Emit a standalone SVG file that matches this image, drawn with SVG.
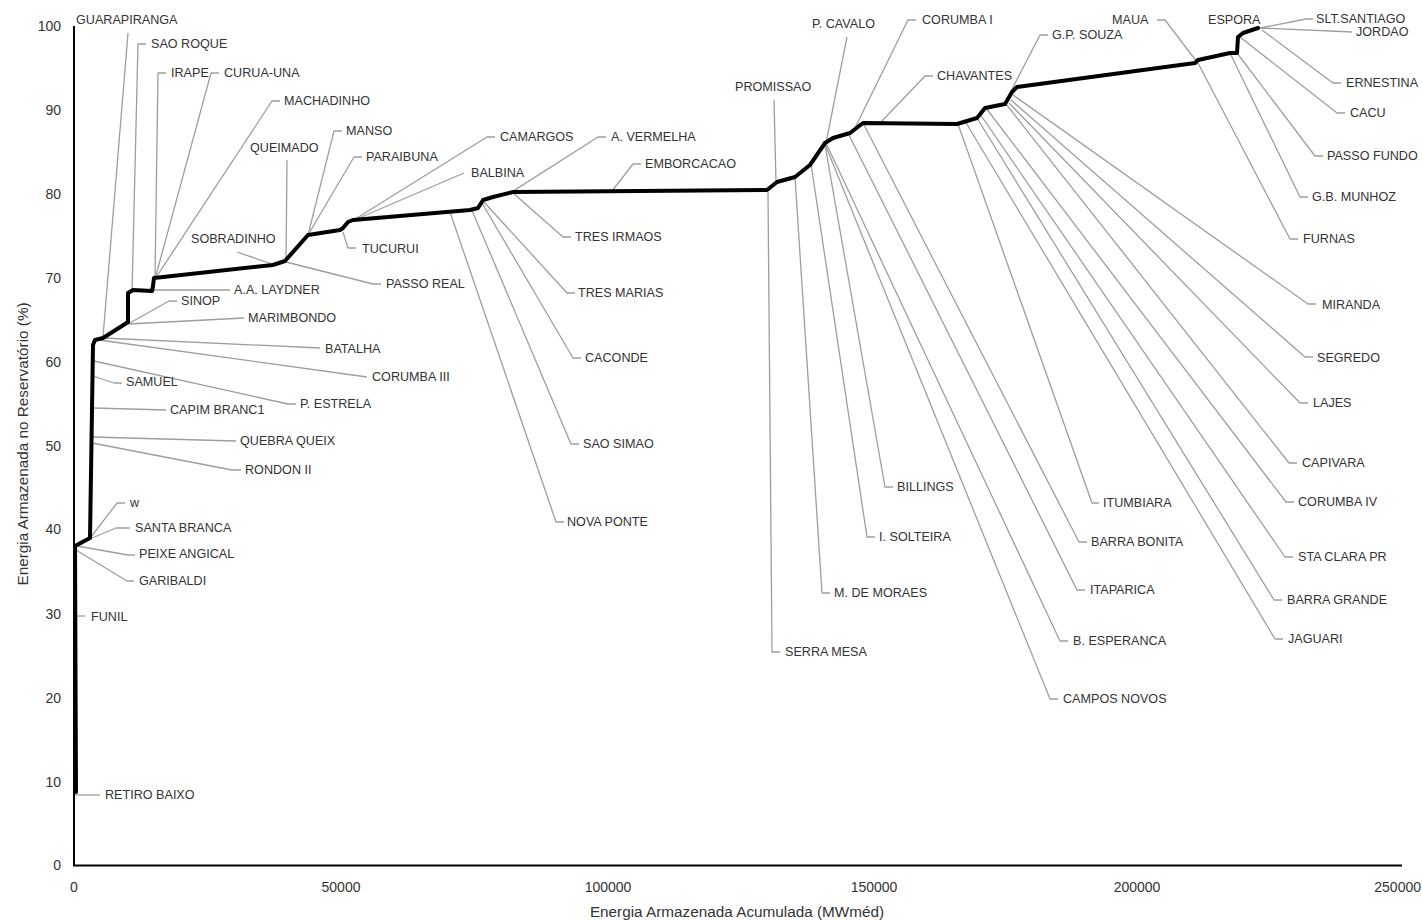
<svg xmlns="http://www.w3.org/2000/svg" width="1422" height="920" viewBox="0 0 1422 920">
<style>
.lbl{font-family:"Liberation Sans",Arial,sans-serif;font-size:12.6px;fill:#333;dominant-baseline:central}
.tk{font-family:"Liberation Sans",Arial,sans-serif;font-size:14px;fill:#333;dominant-baseline:central}
.ttl{font-family:"Liberation Sans",Arial,sans-serif;font-size:15.3px;fill:#333;dominant-baseline:central;text-anchor:middle}
.ld{stroke:#9e9e9e;stroke-width:1.3;fill:none;stroke-linejoin:round}
.ax{stroke:#000;stroke-width:2;fill:none}
.curve{stroke:#000;stroke-width:4;fill:none;stroke-linejoin:round;stroke-linecap:round}
</style>
<rect width="1422" height="920" fill="#fff"/>
<g id="axes">
<line class="ax" x1="74" y1="26" x2="74" y2="866"/>
<line class="ax" x1="73" y1="865.5" x2="1402" y2="865.5"/>
<g class="tk" text-anchor="end">
<text x="61" y="26">100</text><text x="61" y="110">90</text><text x="61" y="194">80</text><text x="61" y="278">70</text><text x="61" y="362">60</text><text x="61" y="446">50</text><text x="61" y="529">40</text><text x="61" y="614">30</text><text x="61" y="698">20</text><text x="61" y="782">10</text><text x="61" y="865">0</text>
</g>
<g class="tk" text-anchor="middle">
<text x="74" y="887">0</text><text x="341" y="887">50000</text><text x="608" y="887">100000</text><text x="874" y="887">150000</text><text x="1137" y="887">200000</text>
</g>
<text class="tk" x="1421" y="887" text-anchor="end">250000</text>
<text class="ttl" transform="translate(22,444) rotate(-90)">Energia Armazenada no Reservatório (%)</text>
<text class="ttl" x="737" y="911">Energia Armazenada Acumulada (MWméd)</text>
</g>
<g id="connectors">
<polyline class="ld" points="128,33 103,337"/>
<polyline class="ld" points="146,44 138,44 132,292"/>
<polyline class="ld" points="166,73 158,73 155,279"/>
<polyline class="ld" points="219,73 211,73 155,279"/>
<polyline class="ld" points="280,101 272,101 155,279"/>
<polyline class="ld" points="287,160 286,262"/>
<polyline class="ld" points="342,131 334,131 308,235"/>
<polyline class="ld" points="362,157 354,157 308,235"/>
<polyline class="ld" points="237,252 275,265"/>
<polyline class="ld" points="381,284 373,284 286,262"/>
<polyline class="ld" points="356,248 348,248 343,232"/>
<polyline class="ld" points="153,290 230,290"/>
<polyline class="ld" points="177,301 169,301 128,324"/>
<polyline class="ld" points="128,324 244,318"/>
<polyline class="ld" points="103,338 320,348"/>
<polyline class="ld" points="99,340 367,377"/>
<polyline class="ld" points="93,376 114,383 122,383"/>
<polyline class="ld" points="94,361 288,404 296,404"/>
<polyline class="ld" points="93,408 166,410"/>
<polyline class="ld" points="92,437 236,441"/>
<polyline class="ld" points="92,443 232,470 241,470"/>
<polyline class="ld" points="125,503 117,503 91,537"/>
<polyline class="ld" points="92,538 116,528 130,528"/>
<polyline class="ld" points="77,546 128,555 135,555"/>
<polyline class="ld" points="76,550 127,581 134,581"/>
<polyline class="ld" points="76,616 85,616"/>
<polyline class="ld" points="75,795 100,795"/>
<polyline class="ld" points="495,137 487,137 352,221"/>
<polyline class="ld" points="352,221 464,173"/>
<polyline class="ld" points="606,137 598,137 507,195"/>
<polyline class="ld" points="641,164 633,164 612,191"/>
<polyline class="ld" points="513,193 563,237 571,237"/>
<polyline class="ld" points="483,201 567,293 575,293"/>
<polyline class="ld" points="482,203 573,358 581,358"/>
<polyline class="ld" points="471,208 571,444 579,444"/>
<polyline class="ld" points="450,212 556,522 564,522"/>
<polyline class="ld" points="774,100 776,183"/>
<polyline class="ld" points="847,37 826,143"/>
<polyline class="ld" points="916,20 908,20 853,132"/>
<polyline class="ld" points="933,76 925,76 880,123"/>
<polyline class="ld" points="1048,35 1040,35 1011,91"/>
<polyline class="ld" points="1157,20 1165,20 1197,62"/>
<polyline class="ld" points="1260,28 1306,19 1313,19"/>
<polyline class="ld" points="1260,28 1352,32"/>
<polyline class="ld" points="1262,30 1333,83 1341,83"/>
<polyline class="ld" points="1240,37 1337,113 1345,113"/>
<polyline class="ld" points="1237,53 1315,156 1323,156"/>
<polyline class="ld" points="1230,53 1300,197 1308,197"/>
<polyline class="ld" points="1198,63 1290,239 1298,239"/>
<polyline class="ld" points="1013,95 1308,304 1316,304"/>
<polyline class="ld" points="1011,100 1305,357 1313,357"/>
<polyline class="ld" points="1009,103 1300,403 1308,403"/>
<polyline class="ld" points="1006,104 1289,463 1297,463"/>
<polyline class="ld" points="986,108 1286,502 1294,502"/>
<polyline class="ld" points="980,114 1285,557 1293,557"/>
<polyline class="ld" points="977,118 1274,600 1282,600"/>
<polyline class="ld" points="965,121 1275,639 1283,639"/>
<polyline class="ld" points="958,124 1092,503 1099,503"/>
<polyline class="ld" points="863,123 1079,542 1087,542"/>
<polyline class="ld" points="848,133 1077,590 1085,590"/>
<polyline class="ld" points="826,143 1060,641 1068,641"/>
<polyline class="ld" points="825,144 1050,699 1058,699"/>
<polyline class="ld" points="825,145 885,487 893,487"/>
<polyline class="ld" points="811,164 867,537 875,537"/>
<polyline class="ld" points="795,177 822,593 830,593"/>
<polyline class="ld" points="768,192 772,652 780,652"/>
</g>
<g id="curve">
<polyline class="curve" points="76,792 75,546 90,538 93,345 95,340 103,338 125,324 128,322 128,293 133,290 152,291 153,286 154,278 273,265 285,261 308,235 340,230 343,228 348,222 353,220 470,210 478,208 483,200 493,197 513,192 767,190 777,182 795,177 810,165 825,143 833,138 850,133 863,123 957,124 977,118 985,108 1005,104 1012,92 1017,87 1195,63 1198,60 1230,53 1237,53 1238,37 1243,33 1258,28"/>
</g>
<g id="labels">
<g id="n-guarapiranga"><text class="lbl" x="76" y="20">GUARAPIRANGA</text></g>
<g id="n-sao-roque"><text class="lbl" x="151" y="44">SAO ROQUE</text></g>
<g id="n-irape"><text class="lbl" x="171" y="73">IRAPE</text></g>
<g id="n-curua-una"><text class="lbl" x="224" y="73">CURUA-UNA</text></g>
<g id="n-machadinho"><text class="lbl" x="284" y="101">MACHADINHO</text></g>
<g id="n-queimado"><text class="lbl" x="250" y="148">QUEIMADO</text></g>
<g id="n-manso"><text class="lbl" x="346" y="131">MANSO</text></g>
<g id="n-paraibuna"><text class="lbl" x="366" y="157">PARAIBUNA</text></g>
<g id="n-sobradinho"><text class="lbl" x="191" y="239">SOBRADINHO</text></g>
<g id="n-passo-real"><text class="lbl" x="386" y="284">PASSO REAL</text></g>
<g id="n-tucurui"><text class="lbl" x="362" y="249">TUCURUI</text></g>
<g id="n-laydner"><text class="lbl" x="234" y="290">A.A. LAYDNER</text></g>
<g id="n-sinop"><text class="lbl" x="181" y="301">SINOP</text></g>
<g id="n-marimbondo"><text class="lbl" x="248" y="318">MARIMBONDO</text></g>
<g id="n-batalha"><text class="lbl" x="325" y="349">BATALHA</text></g>
<g id="n-corumba-iii"><text class="lbl" x="372" y="377">CORUMBA III</text></g>
<g id="n-samuel"><text class="lbl" x="126" y="382">SAMUEL</text></g>
<g id="n-p-estrela"><text class="lbl" x="300" y="404">P. ESTRELA</text></g>
<g id="n-capim-branc1"><text class="lbl" x="170" y="410">CAPIM BRANC1</text></g>
<g id="n-quebra-queix"><text class="lbl" x="240" y="441">QUEBRA QUEIX</text></g>
<g id="n-rondon-ii"><text class="lbl" x="245" y="470">RONDON II</text></g>
<g id="n-w"><text class="lbl" x="130" y="503">w</text></g>
<g id="n-santa-branca"><text class="lbl" x="135" y="528">SANTA BRANCA</text></g>
<g id="n-peixe-angical"><text class="lbl" x="139" y="554">PEIXE ANGICAL</text></g>
<g id="n-garibaldi"><text class="lbl" x="139" y="581">GARIBALDI</text></g>
<g id="n-funil"><text class="lbl" x="91" y="617">FUNIL</text></g>
<g id="n-retiro-baixo"><text class="lbl" x="105" y="795">RETIRO BAIXO</text></g>
<g id="n-camargos"><text class="lbl" x="500" y="137">CAMARGOS</text></g>
<g id="n-balbina"><text class="lbl" x="471" y="173">BALBINA</text></g>
<g id="n-a-vermelha"><text class="lbl" x="611" y="137">A. VERMELHA</text></g>
<g id="n-emborcacao"><text class="lbl" x="645" y="164">EMBORCACAO</text></g>
<g id="n-tres-irmaos"><text class="lbl" x="575" y="237">TRES IRMAOS</text></g>
<g id="n-tres-marias"><text class="lbl" x="578" y="293">TRES MARIAS</text></g>
<g id="n-caconde"><text class="lbl" x="585" y="358">CACONDE</text></g>
<g id="n-sao-simao"><text class="lbl" x="583" y="444">SAO SIMAO</text></g>
<g id="n-nova-ponte"><text class="lbl" x="567" y="522">NOVA PONTE</text></g>
<g id="n-promissao"><text class="lbl" x="735" y="87">PROMISSAO</text></g>
<g id="n-p-cavalo"><text class="lbl" x="812" y="24">P. CAVALO</text></g>
<g id="n-corumba-i"><text class="lbl" x="922" y="20">CORUMBA I</text></g>
<g id="n-chavantes"><text class="lbl" x="937" y="76">CHAVANTES</text></g>
<g id="n-gp-souza"><text class="lbl" x="1052" y="35">G.P. SOUZA</text></g>
<g id="n-maua"><text class="lbl" x="1112" y="20">MAUA</text></g>
<g id="n-espora"><text class="lbl" x="1208" y="20">ESPORA</text></g>
<g id="n-slt-santiago"><text class="lbl" x="1316" y="19">SLT.SANTIAGO</text></g>
<g id="n-jordao"><text class="lbl" x="1356" y="32">JORDAO</text></g>
<g id="n-ernestina"><text class="lbl" x="1346" y="83">ERNESTINA</text></g>
<g id="n-cacu"><text class="lbl" x="1350" y="113">CACU</text></g>
<g id="n-passo-fundo"><text class="lbl" x="1327" y="156">PASSO FUNDO</text></g>
<g id="n-gb-munhoz"><text class="lbl" x="1312" y="197">G.B. MUNHOZ</text></g>
<g id="n-furnas"><text class="lbl" x="1303" y="239">FURNAS</text></g>
<g id="n-miranda"><text class="lbl" x="1322" y="305">MIRANDA</text></g>
<g id="n-segredo"><text class="lbl" x="1317" y="358">SEGREDO</text></g>
<g id="n-lajes"><text class="lbl" x="1313" y="403">LAJES</text></g>
<g id="n-capivara"><text class="lbl" x="1302" y="463">CAPIVARA</text></g>
<g id="n-corumba-iv"><text class="lbl" x="1298" y="502">CORUMBA IV</text></g>
<g id="n-sta-clara-pr"><text class="lbl" x="1298" y="557">STA CLARA PR</text></g>
<g id="n-barra-grande"><text class="lbl" x="1287" y="600">BARRA GRANDE</text></g>
<g id="n-jaguari"><text class="lbl" x="1288" y="639">JAGUARI</text></g>
<g id="n-itumbiara"><text class="lbl" x="1103" y="503">ITUMBIARA</text></g>
<g id="n-barra-bonita"><text class="lbl" x="1091" y="542">BARRA BONITA</text></g>
<g id="n-itaparica"><text class="lbl" x="1090" y="590">ITAPARICA</text></g>
<g id="n-b-esperanca"><text class="lbl" x="1073" y="641">B. ESPERANCA</text></g>
<g id="n-campos-novos"><text class="lbl" x="1063" y="699">CAMPOS NOVOS</text></g>
<g id="n-billings"><text class="lbl" x="897" y="487">BILLINGS</text></g>
<g id="n-i-solteira"><text class="lbl" x="879" y="537">I. SOLTEIRA</text></g>
<g id="n-m-de-moraes"><text class="lbl" x="834" y="593">M. DE MORAES</text></g>
<g id="n-serra-mesa"><text class="lbl" x="785" y="652">SERRA MESA</text></g>
</g>
</svg>
